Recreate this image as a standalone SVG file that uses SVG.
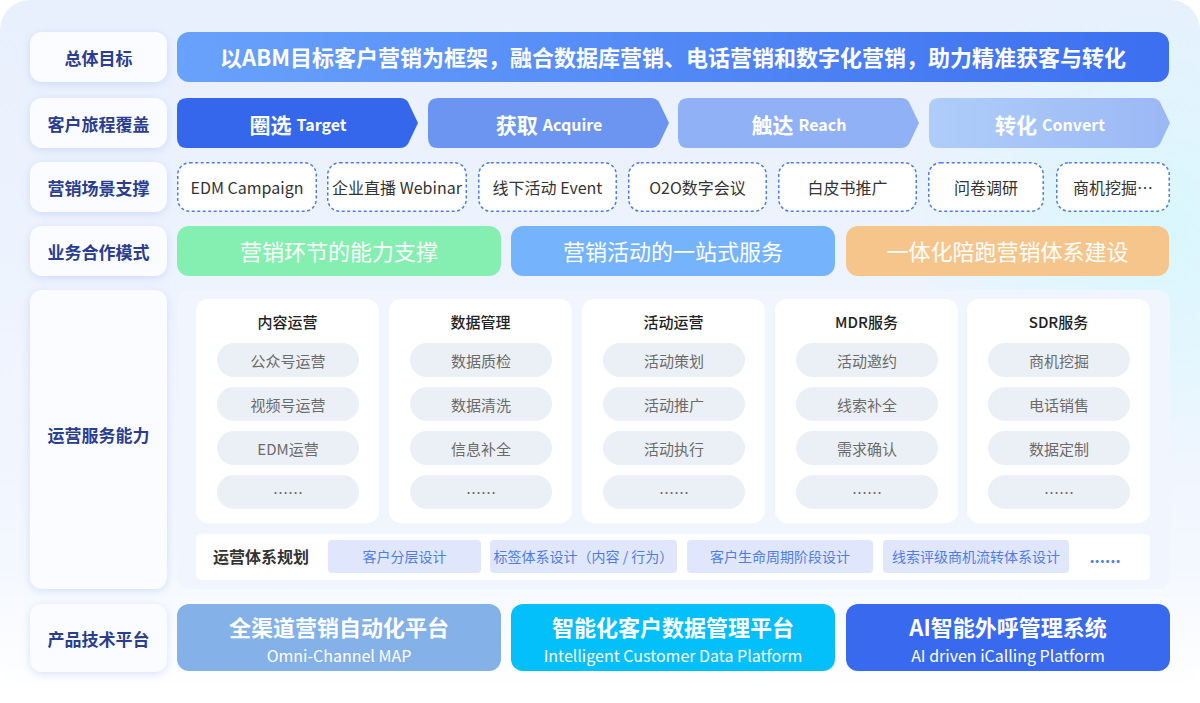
<svg xmlns="http://www.w3.org/2000/svg" width="1200" height="703" viewBox="0 0 1200 703">
<defs>
<linearGradient id="bgV" x1="0" y1="0" x2="0" y2="1">
<stop offset="0" stop-color="#e8f0fd"/>
<stop offset="0.8" stop-color="#f3f7fe"/>
<stop offset="1" stop-color="#ffffff"/>
</linearGradient>
<radialGradient id="glow" cx="1160" cy="230" r="260" gradientUnits="userSpaceOnUse">
<stop offset="0" stop-color="#d9f7fd" stop-opacity="1"/>
<stop offset="1" stop-color="#d9f7fd" stop-opacity="0"/>
</radialGradient>
<linearGradient id="goal" x1="0" y1="0" x2="1" y2="0">
<stop offset="0" stop-color="#69a2fc"/>
<stop offset="1" stop-color="#3c6ff0"/>
</linearGradient>
<linearGradient id="ch4" x1="0" y1="0" x2="1" y2="0">
<stop offset="0" stop-color="#afcdf9"/>
<stop offset="1" stop-color="#9bb8f6"/>
</linearGradient>
<filter id="sh" x="-20%" y="-30%" width="140%" height="160%">
<feDropShadow dx="0" dy="2" stdDeviation="4" flood-color="#a9bdf0" flood-opacity="0.45"/>
</filter>
<style>
text{font-family:"Noto Sans CJK SC","Noto Sans",sans-serif;text-anchor:middle;dominant-baseline:central}
.lbl{fill:#fbfcff;filter:url(#sh)}
.lt{font-size:17px;font-weight:700;fill:#2a3d8f}
.wt{fill:#ffffff}
.dash{fill:#ffffff;stroke:#4a7cf0;stroke-width:1.5;stroke-dasharray:3 2.5}
.dt{font-size:16px;fill:#333333}
.mode{font-size:22px;fill:#ffffff}
.card{fill:#ffffff}
.ct{font-size:15px;font-weight:500;fill:#222222}
.pill{fill:#ebf0f6}
.pt{font-size:15px;fill:#6b6b6b}
.chip{fill:#e0e7fc}
.cht{font-size:14px;fill:#4f7ce8}
.prt{font-size:22px;font-weight:700;fill:#ffffff}
.prs{font-size:16px;fill:#ffffff}
</style>
</defs>

<g id="background">
<rect x="0" y="0" width="1200" height="692" rx="30" fill="url(#bgV)"/>
<rect x="0" y="0" width="1200" height="692" rx="30" fill="url(#glow)"/>
</g>

<g id="label-goal"><rect class="lbl" x="30" y="32" width="137" height="50" rx="12"/><text class="lt" x="98.5" y="57">总体目标</text></g>
<g id="label-journey"><rect class="lbl" x="30" y="98" width="137" height="50" rx="12"/><text class="lt" x="98.5" y="123">客户旅程覆盖</text></g>
<g id="label-scene"><rect class="lbl" x="30" y="162" width="137" height="50" rx="12"/><text class="lt" x="98.5" y="187">营销场景支撑</text></g>
<g id="label-mode"><rect class="lbl" x="30" y="226" width="137" height="50" rx="12"/><text class="lt" x="98.5" y="251">业务合作模式</text></g>
<g id="label-ops"><rect class="lbl" x="30" y="290" width="137" height="299" rx="12"/><text class="lt" x="98.5" y="434">运营服务能力</text></g>
<g id="label-product"><rect class="lbl" x="30" y="604" width="137" height="68" rx="12"/><text class="lt" x="98.5" y="638">产品技术平台</text></g>

<g id="goal-banner"><rect x="177" y="32" width="992" height="50" rx="12" fill="url(#goal)"/><text class="wt" x="673" y="56" font-size="22" font-weight="700">以ABM目标客户营销为框架，融合数据库营销、电话营销和数字化营销，助力精准获客与转化</text></g>

<g id="stage-target"><path d="M187 98H400Q405 98 408 102L418 123L408 144Q405 148 400 148H187Q177 148 177 138V108Q177 98 187 98Z" fill="#3467ec"/><text class="wt" x="298" y="124"><tspan font-size="21" font-weight="700">圈选</tspan><tspan font-size="16" font-weight="700" dx="5">Target</tspan></text></g>
<g id="stage-acquire"><path d="M438 98H651Q656 98 659 102L669 123L659 144Q656 148 651 148H438Q428 148 428 138V108Q428 98 438 98Z" fill="#6b95f1"/><text class="wt" x="549" y="124"><tspan font-size="21" font-weight="700">获取</tspan><tspan font-size="16" font-weight="700" dx="5">Acquire</tspan></text></g>
<g id="stage-reach"><path d="M688 98H901Q906 98 909 102L919 123L909 144Q906 148 901 148H688Q678 148 678 138V108Q678 98 688 98Z" fill="#90b1f6"/><text class="wt" x="799" y="124"><tspan font-size="21" font-weight="700">触达</tspan><tspan font-size="16" font-weight="700" dx="5">Reach</tspan></text></g>
<g id="stage-convert"><path d="M939 98H1152Q1157 98 1160 102L1170 123L1160 144Q1157 148 1152 148H939Q929 148 929 138V108Q929 98 939 98Z" fill="url(#ch4)"/><text class="wt" x="1050" y="124"><tspan font-size="21" font-weight="700">转化</tspan><tspan font-size="16" font-weight="700" dx="5">Convert</tspan></text></g>

<g id="scene-1"><rect class="dash" x="177.75" y="162.75" width="138.5" height="48.5" rx="12"/><text class="dt" x="247" y="187">EDM Campaign</text></g>
<g id="scene-2"><rect class="dash" x="327.75" y="162.75" width="138.5" height="48.5" rx="12"/><text class="dt" x="397" y="187">企业直播 Webinar</text></g>
<g id="scene-3"><rect class="dash" x="478.75" y="162.75" width="137.5" height="48.5" rx="12"/><text class="dt" x="547.5" y="187">线下活动 Event</text></g>
<g id="scene-4"><rect class="dash" x="628.75" y="162.75" width="137.5" height="48.5" rx="12"/><text class="dt" x="697.5" y="187">O2O数字会议</text></g>
<g id="scene-5"><rect class="dash" x="778.75" y="162.75" width="137.5" height="48.5" rx="12"/><text class="dt" x="847.5" y="187">白皮书推广</text></g>
<g id="scene-6"><rect class="dash" x="928.75" y="162.75" width="114.5" height="48.5" rx="12"/><text class="dt" x="986" y="187">问卷调研</text></g>
<g id="scene-7"><rect class="dash" x="1056.75" y="162.75" width="112.5" height="48.5" rx="12"/><text class="dt" x="1113" y="187">商机挖掘…</text></g>

<g id="mode-1"><rect x="177" y="226" width="324" height="50" rx="12" fill="#84efb0"/><text class="mode" x="339" y="250">营销环节的能力支撑</text></g>
<g id="mode-2"><rect x="511" y="226" width="324" height="50" rx="12" fill="#75b4fd"/><text class="mode" x="673" y="250">营销活动的一站式服务</text></g>
<g id="mode-3"><rect x="846" y="226" width="323" height="50" rx="12" fill="#f6c58b"/><text class="mode" x="1007.5" y="250">一体化陪跑营销体系建设</text></g>

<g id="ops-panel"><rect x="177" y="290" width="993" height="299" rx="12" fill="#f0f5fe"/></g>

<g id="svc-content">
<rect class="card" x="196" y="299" width="183" height="224" rx="12"/>
<text class="ct" x="287.5" y="321">内容运营</text>
<rect class="pill" x="217" y="343" width="142" height="34" rx="17"/><text class="pt" x="288" y="360">公众号运营</text>
<rect class="pill" x="217" y="387" width="142" height="34" rx="17"/><text class="pt" x="288" y="404">视频号运营</text>
<rect class="pill" x="217" y="431" width="142" height="34" rx="17"/><text class="pt" x="288" y="448">EDM运营</text>
<rect class="pill" x="217" y="475" width="142" height="34" rx="17"/><text class="pt" x="288" y="492">……</text>
</g>
<g id="svc-data">
<rect class="card" x="389" y="299" width="183" height="224" rx="12"/>
<text class="ct" x="480.5" y="321">数据管理</text>
<rect class="pill" x="410" y="343" width="142" height="34" rx="17"/><text class="pt" x="481" y="360">数据质检</text>
<rect class="pill" x="410" y="387" width="142" height="34" rx="17"/><text class="pt" x="481" y="404">数据清洗</text>
<rect class="pill" x="410" y="431" width="142" height="34" rx="17"/><text class="pt" x="481" y="448">信息补全</text>
<rect class="pill" x="410" y="475" width="142" height="34" rx="17"/><text class="pt" x="481" y="492">……</text>
</g>
<g id="svc-event">
<rect class="card" x="582" y="299" width="183" height="224" rx="12"/>
<text class="ct" x="673.5" y="321">活动运营</text>
<rect class="pill" x="603" y="343" width="142" height="34" rx="17"/><text class="pt" x="674" y="360">活动策划</text>
<rect class="pill" x="603" y="387" width="142" height="34" rx="17"/><text class="pt" x="674" y="404">活动推广</text>
<rect class="pill" x="603" y="431" width="142" height="34" rx="17"/><text class="pt" x="674" y="448">活动执行</text>
<rect class="pill" x="603" y="475" width="142" height="34" rx="17"/><text class="pt" x="674" y="492">……</text>
</g>
<g id="svc-mdr">
<rect class="card" x="775" y="299" width="183" height="224" rx="12"/>
<text class="ct" x="866.5" y="321">MDR服务</text>
<rect class="pill" x="796" y="343" width="142" height="34" rx="17"/><text class="pt" x="867" y="360">活动邀约</text>
<rect class="pill" x="796" y="387" width="142" height="34" rx="17"/><text class="pt" x="867" y="404">线索补全</text>
<rect class="pill" x="796" y="431" width="142" height="34" rx="17"/><text class="pt" x="867" y="448">需求确认</text>
<rect class="pill" x="796" y="475" width="142" height="34" rx="17"/><text class="pt" x="867" y="492">……</text>
</g>
<g id="svc-sdr">
<rect class="card" x="967" y="299" width="183" height="224" rx="12"/>
<text class="ct" x="1058.5" y="321">SDR服务</text>
<rect class="pill" x="988" y="343" width="142" height="34" rx="17"/><text class="pt" x="1059" y="360">商机挖掘</text>
<rect class="pill" x="988" y="387" width="142" height="34" rx="17"/><text class="pt" x="1059" y="404">电话销售</text>
<rect class="pill" x="988" y="431" width="142" height="34" rx="17"/><text class="pt" x="1059" y="448">数据定制</text>
<rect class="pill" x="988" y="475" width="142" height="34" rx="17"/><text class="pt" x="1059" y="492">……</text>
</g>

<g id="ops-planning">
<rect x="196" y="534" width="954" height="46" rx="5" fill="#ffffff"/>
<text x="261" y="556" font-size="16" font-weight="700" fill="#333333">运营体系规划</text>
<rect class="chip" x="328" y="540" width="153" height="33" rx="4"/><text class="cht" x="404.5" y="556">客户分层设计</text>
<rect class="chip" x="490" y="540" width="187" height="33" rx="4"/><text class="cht" x="583.5" y="556">标签体系设计（内容 / 行为）</text>
<rect class="chip" x="687" y="540" width="186" height="33" rx="4"/><text class="cht" x="780" y="556">客户生命周期阶段设计</text>
<rect class="chip" x="883" y="540" width="186" height="33" rx="4"/><text class="cht" x="976" y="556">线索评级商机流转体系设计</text>
<text x="1105" y="556" font-size="16" font-weight="700" fill="#4f7ce8">......</text>
</g>

<g id="product-map"><rect x="177" y="604" width="324" height="67" rx="12" fill="#84b1e7"/><text class="prt" x="339" y="626">全渠道营销自动化平台</text><text class="prs" x="339" y="655">Omni-Channel MAP</text></g>
<g id="product-cdp"><rect x="511" y="604" width="324" height="67" rx="12" fill="#03c0fb"/><text class="prt" x="673" y="626">智能化客户数据管理平台</text><text class="prs" x="673" y="655">Intelligent Customer Data Platform</text></g>
<g id="product-icalling"><rect x="846" y="604" width="324" height="67" rx="12" fill="#3869ef"/><text class="prt" x="1008" y="626">AI智能外呼管理系统</text><text class="prs" x="1008" y="655">AI driven iCalling Platform</text></g>

<g id="connectors"></g>
</svg>
